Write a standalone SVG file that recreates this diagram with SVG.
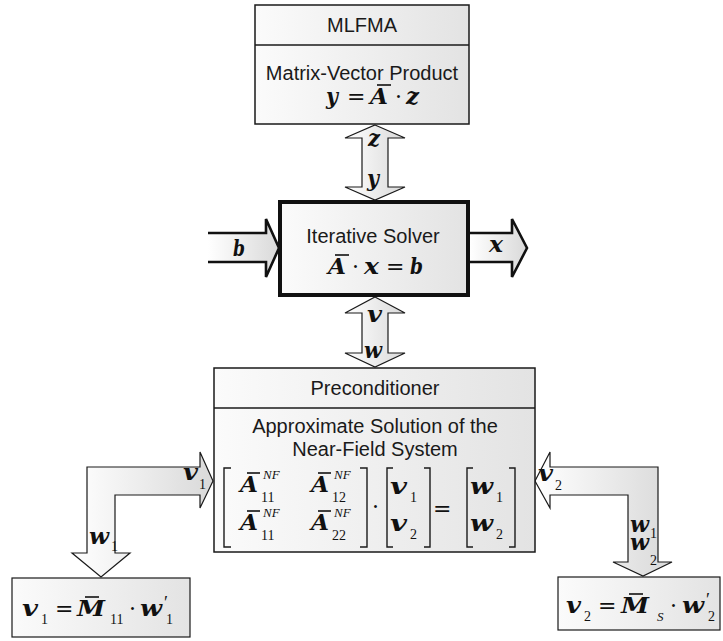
<svg xmlns="http://www.w3.org/2000/svg" width="723" height="641" viewBox="0 0 723 641">
  <defs>
    <linearGradient id="gBox" x1="0" y1="0" x2="1" y2="0">
      <stop offset="0" stop-color="#fbfbfb"/>
      <stop offset="1" stop-color="#e3e3e3"/>
    </linearGradient>
    <linearGradient id="gArr" x1="0" y1="0" x2="1" y2="0">
      <stop offset="0" stop-color="#ffffff"/>
      <stop offset="1" stop-color="#d9d9d9"/>
    </linearGradient>
    <style>
      .box { fill: url(#gBox); stroke: #1a1a1a; stroke-width: 1.5; }
      .thin { stroke-width: 1.2; }
      .solver { fill: url(#gBox); stroke: #111; stroke-width: 4; }
      .arr { fill: url(#gArr); stroke: #1a1a1a; stroke-width: 1.2; stroke-linejoin: miter; }
      .fillonly { fill: url(#gArr); stroke: none; }
      .heavy { fill: none; stroke: #111; stroke-width: 2.6; stroke-linejoin: miter; }
      .lbl { font-family: "Liberation Sans", Arial, sans-serif; font-size: 20px; fill: #1a1a1a; text-anchor: middle; }
      .m { font-family: "DejaVu Serif", serif; font-weight: bold; font-style: italic; font-size: 22px; fill: #111; }
      .r { font-family: "DejaVu Serif", serif; font-size: 22px; fill: #111; }
      .s { font-family: "Liberation Serif", serif; font-size: 14px; fill: #111; }
      .sup { font-family: "Liberation Serif", serif; font-style: italic; font-size: 13px; fill: #111; }
      .pr { font-family: "Liberation Serif", serif; font-size: 18px; fill: #111; }
      .bar { stroke: #111; stroke-width: 1.6; }
      .brk { fill: none; stroke: #1a1a1a; stroke-width: 1.4; }
    </style>
  </defs>

  <!-- connectors -->
  <g id="connectors">
    <!-- z / y between MLFMA and solver -->
    <polygon class="arr" points="375,125 405,138 388,138 388,187 405,187 375,200 345,187 362,187 362,138 345,138"/>
    <text class="m" x="368" y="146" textLength="12" lengthAdjust="spacingAndGlyphs">z</text>
    <text class="m" x="367" y="186" textLength="12" lengthAdjust="spacingAndGlyphs">y</text>

    <!-- v / w between solver and preconditioner -->
    <polygon class="arr" points="375,297 405,313 388,313 388,353 405,353 375,367 345,353 362,353 362,313 345,313"/>
    <text class="m" x="367" y="322" textLength="15" lengthAdjust="spacingAndGlyphs">v</text>
    <text class="m" x="364" y="358" textLength="18" lengthAdjust="spacingAndGlyphs">w</text>

    <!-- b input -->
    <polygon class="fillonly" points="208,233 266,233 266,219 279,248 266,277 266,262 208,262"/>
    <path class="heavy" d="M208,233 H266 V219 L279,248 L266,277 V262 H208"/>
    <text class="m" x="233" y="256" textLength="12" lengthAdjust="spacingAndGlyphs">b</text>

    <!-- x output -->
    <polygon class="fillonly" points="470,233 512,233 512,219 527,248 512,277 512,262 470,262"/>
    <path class="heavy" d="M470,233 H512 V219 L527,248 L512,277 V262 H470"/>
    <text class="m" x="489" y="252" textLength="14" lengthAdjust="spacingAndGlyphs">x</text>

    <!-- left L-arrow: w1 down, v1 back -->
    <polygon class="arr" points="87,553 87,467 200,467 200,452 213,481 200,508 200,495 115,495 115,553 130,553 101,577 72,553"/>
    <text class="m" x="183" y="480" textLength="15" lengthAdjust="spacingAndGlyphs">v</text>
    <text class="s" x="199" y="489">1</text>
    <text class="m" x="89" y="544" textLength="20" lengthAdjust="spacingAndGlyphs">w</text>
    <text class="s" x="111" y="551">1</text>

    <!-- right L-arrow: w1,w2 down, v2 back -->
    <polygon class="arr" points="535,481 550,452 550,467 658,467 658,562 672,562 643,576 613,562 628,562 628,495 550,495 550,508"/>
    <text class="m" x="538" y="481" textLength="15" lengthAdjust="spacingAndGlyphs">v</text>
    <text class="s" x="555" y="490">2</text>
    <text class="m" x="630" y="532" textLength="19" lengthAdjust="spacingAndGlyphs">w</text>
    <text class="s" x="650" y="538">1</text>
    <text class="m" x="630" y="550" textLength="19" lengthAdjust="spacingAndGlyphs">w</text>
    <text class="s" x="650" y="565">2</text>
  </g>

  <!-- MLFMA -->
  <g id="mlfma">
    <rect class="box" x="255" y="5" width="214" height="119"/>
    <line x1="255" y1="45" x2="469" y2="45" stroke="#1a1a1a" stroke-width="1.5"/>
    <text class="lbl" x="362" y="32">MLFMA</text>
    <text class="lbl" x="362" y="80">Matrix-Vector Product</text>
    <text class="m" x="326" y="104" textLength="12" lengthAdjust="spacingAndGlyphs">y</text>
    <text class="r" x="347" y="104">=</text>
    <text class="m" x="370" y="104" textLength="18" lengthAdjust="spacingAndGlyphs">A</text>
    <line class="bar" x1="377" y1="85" x2="391" y2="85"/>
    <text class="r" x="395" y="104">·</text>
    <text class="m" x="406" y="104" textLength="13" lengthAdjust="spacingAndGlyphs">z</text>
  </g>

  <!-- Iterative solver -->
  <g id="solver">
    <rect class="solver" x="280" y="202" width="188" height="93"/>
    <text class="lbl" x="373" y="243">Iterative Solver</text>
    <text class="m" x="328" y="274" textLength="18" lengthAdjust="spacingAndGlyphs">A</text>
    <line class="bar" x1="335" y1="255" x2="349" y2="255"/>
    <text class="r" x="352" y="274">·</text>
    <text class="m" x="364" y="274" textLength="15" lengthAdjust="spacingAndGlyphs">x</text>
    <text class="r" x="386" y="274">=</text>
    <text class="m" x="410" y="274" textLength="13" lengthAdjust="spacingAndGlyphs">b</text>
  </g>

  <!-- Preconditioner -->
  <g id="preconditioner">
    <rect class="box" x="214" y="368" width="321" height="184"/>
    <line x1="214" y1="408" x2="535" y2="408" stroke="#1a1a1a" stroke-width="1.5"/>
    <text class="lbl" x="375" y="395">Preconditioner</text>
    <text class="lbl" x="375" y="433">Approximate Solution of the</text>
    <text class="lbl" x="375" y="456">Near-Field System</text>

    <!-- block matrix -->
    <path class="brk" d="M231,468 H224 V547 H231"/>
    <path class="brk" d="M360,468 H367 V547 H360"/>
    <text class="m" x="240" y="492" textLength="18" lengthAdjust="spacingAndGlyphs">A</text>
    <line class="bar" x1="247" y1="473" x2="260" y2="473"/>
    <text class="sup" x="263" y="479">NF</text>
    <text class="s" x="261" y="502">11</text>
    <text class="m" x="311" y="492" textLength="18" lengthAdjust="spacingAndGlyphs">A</text>
    <line class="bar" x1="318" y1="473" x2="331" y2="473"/>
    <text class="sup" x="334" y="479">NF</text>
    <text class="s" x="332" y="502">12</text>
    <text class="m" x="240" y="530" textLength="18" lengthAdjust="spacingAndGlyphs">A</text>
    <line class="bar" x1="247" y1="511" x2="260" y2="511"/>
    <text class="sup" x="263" y="517">NF</text>
    <text class="s" x="261" y="540">11</text>
    <text class="m" x="311" y="530" textLength="18" lengthAdjust="spacingAndGlyphs">A</text>
    <line class="bar" x1="318" y1="511" x2="331" y2="511"/>
    <text class="sup" x="334" y="517">NF</text>
    <text class="s" x="332" y="540">22</text>

    <text class="r" x="372" y="514">·</text>

    <path class="brk" d="M393,468 H387 V547 H393"/>
    <path class="brk" d="M424,468 H430 V547 H424"/>
    <text class="m" x="390" y="494" textLength="17" lengthAdjust="spacingAndGlyphs">v</text>
    <text class="s" x="410" y="502">1</text>
    <text class="m" x="390" y="531" textLength="17" lengthAdjust="spacingAndGlyphs">v</text>
    <text class="s" x="410" y="539">2</text>

    <text class="r" x="433" y="516">=</text>

    <path class="brk" d="M473,468 H467 V547 H473"/>
    <path class="brk" d="M509,468 H515 V547 H509"/>
    <text class="m" x="470" y="494" textLength="23" lengthAdjust="spacingAndGlyphs">w</text>
    <text class="s" x="496" y="502">1</text>
    <text class="m" x="470" y="531" textLength="23" lengthAdjust="spacingAndGlyphs">w</text>
    <text class="s" x="496" y="539">2</text>
  </g>

  <!-- left sub-solver -->
  <g id="block-left">
    <rect class="box thin" x="12" y="578" width="178" height="59"/>
    <text class="m" x="22" y="616" textLength="16" lengthAdjust="spacingAndGlyphs">v</text>
    <text class="s" x="41" y="624">1</text>
    <text class="r" x="55" y="616">=</text>
    <text class="m" x="77" y="616" textLength="28" lengthAdjust="spacingAndGlyphs">M</text>
    <line class="bar" x1="85" y1="597" x2="99" y2="597"/>
    <text class="s" x="110" y="624">11</text>
    <text class="r" x="129" y="616">·</text>
    <text class="m" x="140" y="616" textLength="22" lengthAdjust="spacingAndGlyphs">w</text>
    <text class="pr" x="164" y="609">′</text>
    <text class="s" x="166" y="624">1</text>
  </g>

  <!-- right sub-solver -->
  <g id="block-right">
    <rect class="box thin" x="558" y="577" width="162" height="53"/>
    <text class="m" x="566" y="613" textLength="15" lengthAdjust="spacingAndGlyphs">v</text>
    <text class="s" x="584" y="621">2</text>
    <text class="r" x="598" y="613">=</text>
    <text class="m" x="621" y="613" textLength="28" lengthAdjust="spacingAndGlyphs">M</text>
    <line class="bar" x1="629" y1="594" x2="643" y2="594"/>
    <text class="sup" x="657" y="621" font-size="11">S</text>
    <text class="r" x="670" y="613">·</text>
    <text class="m" x="682" y="613" textLength="22" lengthAdjust="spacingAndGlyphs">w</text>
    <text class="pr" x="706" y="606">′</text>
    <text class="s" x="708" y="621">2</text>
  </g>
</svg>
